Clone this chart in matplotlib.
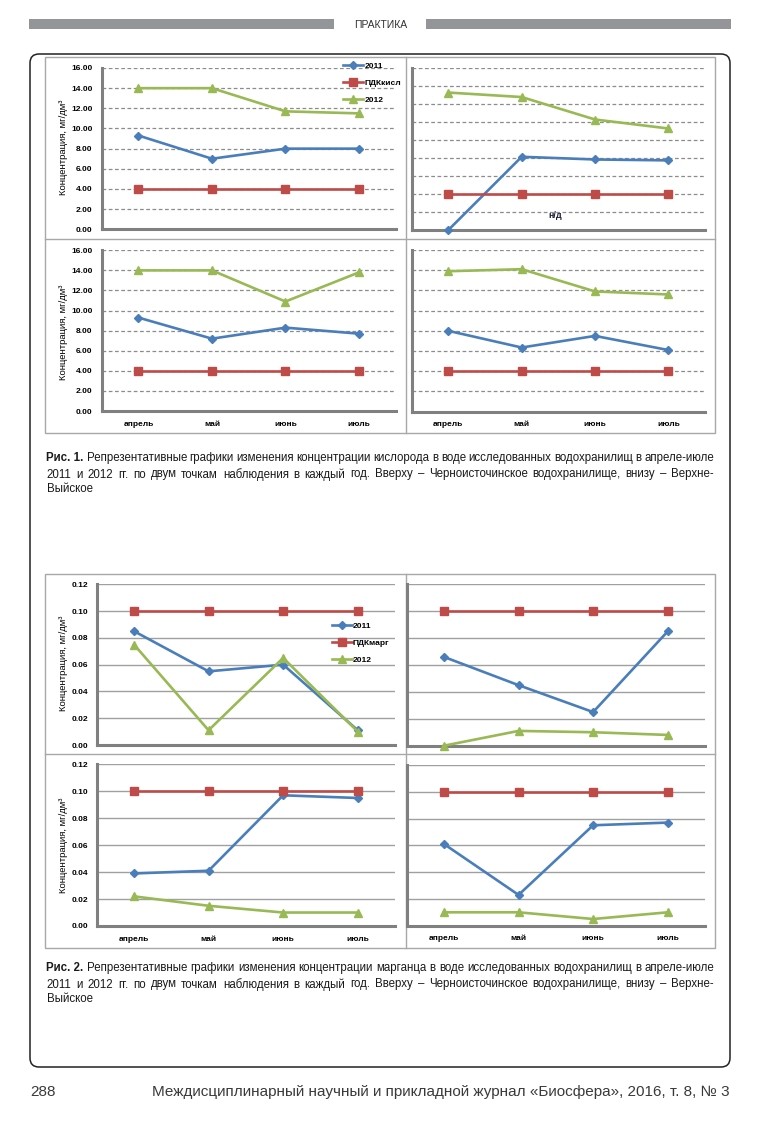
import numpy as np
import matplotlib
matplotlib.use('Agg')
import matplotlib.pyplot as plt
from matplotlib.patches import FancyBboxPatch, Rectangle

W, H = 773, 1126

months = ['апрель', 'май', 'июнь', 'июль']
series_names = ['2011', 'ПДКкисл', '2012']
series_names_mn = ['2011', 'ПДКмарг', '2012']

# Рис. 1 - кислород, мг/дм3
o2_tl_2011 = [9.3, 7.0, 8.0, 8.0]
o2_tl_2012 = [14.0, 14.0, 11.7, 11.5]
o2_tr_2011 = [0.0, 8.15, 7.85, 7.75]
o2_tr_2012 = [15.3, 14.8, 12.3, 11.3]
o2_bl_2011 = [9.3, 7.2, 8.3, 7.7]
o2_bl_2012 = [14.0, 14.0, 10.9, 13.8]
o2_br_2011 = [8.0, 6.35, 7.5, 6.1]
o2_br_2012 = [13.9, 14.1, 11.9, 11.6]
pdk_o2 = [4.0, 4.0, 4.0, 4.0]

# Рис. 2 - марганец, мг/дм3
mn_tl_2011 = [0.085, 0.055, 0.060, 0.011]
mn_tl_2012 = [0.075, 0.011, 0.065, 0.010]
mn_tr_2011 = [0.066, 0.045, 0.025, 0.085]
mn_tr_2012 = [0.000, 0.011, 0.010, 0.008]
mn_bl_2011 = [0.039, 0.041, 0.097, 0.095]
mn_bl_2012 = [0.022, 0.015, 0.010, 0.010]
mn_br_2011 = [0.061, 0.023, 0.075, 0.077]
mn_br_2012 = [0.010, 0.010, 0.005, 0.010]
pdk_mn = [0.10, 0.10, 0.10, 0.10]

c2011 = '#4A7EBB'
cpdk = '#BE4B48'
c2012 = '#98B954'
FONT = ['Liberation Sans', 'DejaVu Sans']
CAPFONT = ['Liberation Sans', 'DejaVu Sans']
plt.rcParams['font.family'] = FONT

fig = plt.figure(figsize=(W / 100, H / 100), dpi=100)
fig.patch.set_facecolor('white')

# page layer in pixel coordinates
page = fig.add_axes([0, 0, 1, 1])
page.set_xlim(0, W)
page.set_ylim(H, 0)
page.axis('off')

# header
page.add_patch(Rectangle((29, 19), 305, 10, color='#939598', lw=0))
page.add_patch(Rectangle((426, 19), 305, 10, color='#939598', lw=0))
page.text(380.5, 24.5, 'ПРАКТИКА', ha='center', va='center', fontsize=7.5, color='#333333')

# outer rounded box
page.add_patch(FancyBboxPatch((30, 54), 700, 1013, boxstyle='round,pad=0,rounding_size=9',
                              fill=False, edgecolor='#222222', lw=1.1))

# chart frames
for (x0, y0, x1, y1, ym) in [(45, 57, 715, 433, 239), (45, 574, 715, 948, 753.5)]:
    page.add_patch(Rectangle((x0, y0), x1 - x0, y1 - y0, fill=False, edgecolor='#a8a8a8', lw=1))
    page.plot([405.5, 405.5], [y0, y1], color='#a8a8a8', lw=1)
    page.plot([x0, x1], [ym, ym], color='#a8a8a8', lw=1)


def make_ax(x0, y0, x1, y1):
    ax = fig.add_axes([x0 / W, 1 - y1 / H, (x1 - x0) / W, (y1 - y0) / H])
    ax.set_facecolor('none')
    return ax


def style(ax, ymax, step, dashed, ylabels, xlabels, pad):
    ax.set_xlim(-0.5, 3.5)
    ax.set_ylim(0, ymax)
    ax.set_yticks(np.arange(0, ymax + step / 2, step))
    ax.set_xticks(range(4))
    ax.set_xticklabels(months if xlabels else [''] * 4, fontsize=6, fontweight='bold')
    if ylabels:
        ax.set_yticklabels([f'{v:.2f}' for v in ax.get_yticks()], fontsize=6, fontweight='bold')
    else:
        ax.set_yticklabels([])
    ax.tick_params(length=0, pad=pad)
    ax.tick_params(axis='x', pad=7)
    for s in ['top', 'right']:
        ax.spines[s].set_visible(False)
    for s in ['left', 'bottom']:
        ax.spines[s].set_color('#808080')
        ax.spines[s].set_linewidth(2.2)
    if dashed:
        ax.yaxis.grid(True, color='#8c8c8c', lw=0.9, ls=(0, (3, 2)))
    else:
        ax.yaxis.grid(True, color='#a0a0a0', lw=1.0)
    ax.set_axisbelow(True)


def draw(ax, v2011, vpdk, v2012, names):
    x = range(len(months))
    ax.plot(x, v2011, color=c2011, marker='D', ms=4.5, lw=1.9, clip_on=False, label=names[0], zorder=3)
    ax.plot(x, vpdk, color=cpdk, marker='s', ms=5.5, lw=1.9, clip_on=False, label=names[1], zorder=3)
    ax.plot(x, v2012, color=c2012, marker='^', ms=6, lw=1.9, clip_on=False, label=names[2], zorder=3)


ylab = 'Концентрация, мг/дм³'
LABSIZE = 6.8

# ---- Рис. 1
ax = make_ax(101.7, 68, 395.7, 229.3)
style(ax, 16, 2, True, True, False, 6.5)
draw(ax, o2_tl_2011, pdk_o2, o2_tl_2012, series_names)
ax.set_ylabel(ylab, fontsize=LABSIZE)
ax.yaxis.set_label_coords(68.5, 147, transform=page.transData)
ax.legend(loc='upper left', bbox_to_anchor=(343 / W, 1 - 62 / H), bbox_transform=fig.transFigure,
          frameon=False, prop={'size': 6, 'weight': 'bold'}, handlelength=2.4, handletextpad=0.15,
          labelspacing=1.1, borderpad=0, borderaxespad=0)

ax = make_ax(411.7, 68.3, 705, 230)
style(ax, 18, 2, True, False, False, 6.5)
draw(ax, o2_tr_2011, pdk_o2, o2_tr_2012, series_names)
page.text(555, 215, 'н/д', ha='center', va='center', fontsize=6.5, fontweight='bold', color='#1f1f3a')

ax = make_ax(101.7, 250.3, 395.7, 411)
style(ax, 16, 2, True, True, True, 6.5)
draw(ax, o2_bl_2011, pdk_o2, o2_bl_2012, series_names)
ax.set_ylabel(ylab, fontsize=LABSIZE)
ax.yaxis.set_label_coords(68.5, 332, transform=page.transData)

ax = make_ax(411.7, 250, 705, 411.7)
style(ax, 16, 2, True, False, True, 6.5)
draw(ax, o2_br_2011, pdk_o2, o2_br_2012, series_names)

# ---- Рис. 2
ax = make_ax(96.7, 584.3, 395, 745)
style(ax, 0.12, 0.02, False, True, False, 6)
draw(ax, mn_tl_2011, pdk_mn, mn_tl_2012, series_names_mn)
ax.set_ylabel(ylab, fontsize=LABSIZE)
ax.yaxis.set_label_coords(68.5, 663, transform=page.transData)
ax.legend(loc='upper left', bbox_to_anchor=(331.7 / W, 1 - 622 / H), bbox_transform=fig.transFigure,
          frameon=False, prop={'size': 6, 'weight': 'bold'}, handlelength=2.4, handletextpad=0.15,
          labelspacing=1.1, borderpad=0, borderaxespad=0)

ax = make_ax(406.7, 584.3, 705, 745.7)
style(ax, 0.12, 0.02, False, False, False, 6)
draw(ax, mn_tr_2011, pdk_mn, mn_tr_2012, series_names_mn)

ax = make_ax(96.7, 764.3, 395, 926)
style(ax, 0.12, 0.02, False, True, True, 6)
draw(ax, mn_bl_2011, pdk_mn, mn_bl_2012, series_names_mn)
ax.set_ylabel(ylab, fontsize=LABSIZE)
ax.yaxis.set_label_coords(68.5, 845, transform=page.transData)

ax = make_ax(406.7, 765, 705, 925.7)
style(ax, 0.12, 0.02, False, False, True, 6)
draw(ax, mn_br_2011, pdk_mn, mn_br_2012, series_names_mn)

# ---- captions (justified word by word)
renderer = fig.canvas.get_renderer()


def line(words, y, x0=46.5, x1=714, justify=True, size=8.3):
    objs = []
    for w, bold in words:
        t = page.text(0, y, w, ha='left', va='center', fontsize=size, family=CAPFONT,
                      fontweight='bold' if bold else 'normal', color='#1a1a1a')
        objs.append(t)
    widths = [t.get_window_extent(renderer).width for t in objs]
    gap = (x1 - x0 - sum(widths)) / (len(objs) - 1) if justify and len(objs) > 1 else 0
    x = x0
    for t, w in zip(objs, widths):
        t.set_x(x)
        x += w + gap


def caption(num, subst, y):
    l1 = [(f'Рис. {num}.', True)] + [(w, False) for w in
          f'Репрезентативные графики изменения концентрации {subst} в воде исследованных водохранилищ в апреле-июле'.split()]
    l2 = [(w, False) for w in
          '2011 и 2012 гг. по двум точкам наблюдения в каждый год. Вверху – Черноисточинское водохранилище, внизу – Верхне-'.split()]
    line(l1, y)
    line(l2, y + 16.5)
    line([('Выйское', False)], y + 31, justify=False)


caption(1, 'кислорода', 458)
caption(2, 'марганца', 968)

# footer
page.text(30, 1092, '288', ha='left', va='center', fontsize=11, color='#3a3a3a')
page.text(730, 1092, 'Междисциплинарный научный и прикладной журнал «Биосфера», 2016, т. 8, № 3',
          ha='right', va='center', fontsize=11, color='#3a3a3a')

fig.savefig('out.png', dpi=100)
